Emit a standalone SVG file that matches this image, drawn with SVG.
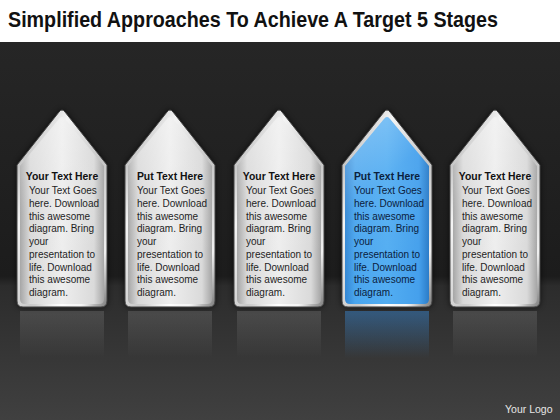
<svg xmlns="http://www.w3.org/2000/svg" width="560" height="420" viewBox="0 0 560 420">
<defs>
  <linearGradient id="bg" gradientUnits="userSpaceOnUse" x1="0" y1="42" x2="0" y2="420">
    <stop offset="0" stop-color="#262626"/>
    <stop offset="0.62" stop-color="#1c1c1c"/>
    <stop offset="0.645" stop-color="#2c2c2c"/>
    <stop offset="1" stop-color="#404040"/>
  </linearGradient>
  <linearGradient id="rim" x1="0" y1="0" x2="1" y2="1">
    <stop offset="0" stop-color="#9a9a9a"/>
    <stop offset="0.3" stop-color="#f4f4f4"/>
    <stop offset="0.6" stop-color="#c4c4c4"/>
    <stop offset="0.85" stop-color="#f0f0f0"/>
    <stop offset="1" stop-color="#7a7a7a"/>
  </linearGradient>
  <linearGradient id="faceS" x1="0" y1="0" x2="1" y2="0">
    <stop offset="0" stop-color="#a4a4a4"/>
    <stop offset="0.12" stop-color="#d8d8d8"/>
    <stop offset="0.5" stop-color="#eeeeee"/>
    <stop offset="0.88" stop-color="#dadada"/>
    <stop offset="1" stop-color="#a6a6a6"/>
  </linearGradient>
  <linearGradient id="faceB" x1="0" y1="0" x2="1" y2="0">
    <stop offset="0" stop-color="#2f84d2"/>
    <stop offset="0.12" stop-color="#47a4ee"/>
    <stop offset="0.5" stop-color="#52adf2"/>
    <stop offset="0.88" stop-color="#45a0ec"/>
    <stop offset="1" stop-color="#2b7cc8"/>
  </linearGradient>
  <linearGradient id="gloss" x1="0" y1="0" x2="0.4" y2="1">
    <stop offset="0" stop-color="#ffffff" stop-opacity="0.35"/>
    <stop offset="0.45" stop-color="#ffffff" stop-opacity="0.06"/>
    <stop offset="1" stop-color="#ffffff" stop-opacity="0"/>
  </linearGradient>
  <linearGradient id="shine" x1="0" y1="0" x2="1" y2="0">
    <stop offset="0" stop-color="#ffffff" stop-opacity="0"/>
    <stop offset="0.5" stop-color="#ffffff" stop-opacity="1"/>
    <stop offset="1" stop-color="#ffffff" stop-opacity="0"/>
  </linearGradient>
  <linearGradient id="reflS" x1="0" y1="0" x2="0" y2="1">
    <stop offset="0" stop-color="#ffffff" stop-opacity="0.13"/>
    <stop offset="1" stop-color="#ffffff" stop-opacity="0"/>
  </linearGradient>
  <linearGradient id="reflB" x1="0" y1="0" x2="0" y2="1">
    <stop offset="0" stop-color="#3a8ede" stop-opacity="0.45"/>
    <stop offset="1" stop-color="#3a8ede" stop-opacity="0"/>
  </linearGradient>
  <filter id="blur" x="-30%" y="-30%" width="160%" height="160%">
    <feGaussianBlur stdDeviation="3"/>
  </filter>
  <path id="outer" d="M -45,165 L -3,112 Q 0,108 3,112 L 45,165 L 45,301 Q 45,307 39,307 L -39,307 Q -45,307 -45,301 Z"/>
  <path id="inner" d="M -42,166 L -3,119 Q 0,115 3,119 L 42,166 L 42,299 Q 42,304 37,304 L -37,304 Q -42,304 -42,299 Z"/>
  <path id="refl" d="M -42,311 L 42,311 L 42,358 L -42,358 Z"/>
</defs>
<style>
  .title { font-family: "Liberation Sans", Arial, sans-serif; font-weight: bold; font-size: 22px; fill: #111; }
  .hd { font-family: "Liberation Sans", Arial, sans-serif; font-weight: bold; font-size: 10.4px; fill: #111; text-anchor: middle; }
  .bd { font-family: "Liberation Sans", Arial, sans-serif; font-size: 10px; fill: #1e1e1e; }
  .blue .hd, .blue .bd { fill: #0b213d; }
  .halo { fill: #000; opacity: 0.7; filter: url(#blur); }
  .rim { fill: url(#rim); stroke: #444; stroke-width: 1; }
  .logo { font-family: "Liberation Sans", Arial, sans-serif; font-size: 10.5px; fill: #e6e6e6; }
</style>

<rect x="0" y="0" width="560" height="42" fill="#ffffff"/>
<rect x="0" y="42" width="560" height="378" fill="url(#bg)"/>
<text class="title" x="8" y="27" textLength="490" lengthAdjust="spacingAndGlyphs">Simplified Approaches To Achieve A Target 5 Stages</text>

<g id="stage1" transform="translate(62,0)">
  <use href="#outer" class="halo"/>
  <use href="#refl" fill="url(#reflS)"/>
  <use href="#outer" class="rim"/>
  <use href="#inner" fill="url(#faceS)"/>
  <use href="#inner" fill="url(#gloss)"/>
  <rect x="-32" y="304" width="64" height="2" fill="url(#shine)"/>
  <text class="hd" x="0" y="180">Your Text Here</text>
  <text class="bd"><tspan x="-33" y="194.3">Your Text Goes</tspan><tspan x="-33" y="207">here. Download</tspan><tspan x="-33" y="219.7">this awesome</tspan><tspan x="-33" y="232.4">diagram. Bring</tspan><tspan x="-33" y="245">your</tspan><tspan x="-33" y="257.8">presentation to</tspan><tspan x="-33" y="270.5">life. Download</tspan><tspan x="-33" y="283.2">this awesome</tspan><tspan x="-33" y="296">diagram.</tspan></text>
</g>

<g id="stage2" transform="translate(170,0)">
  <use href="#outer" class="halo"/>
  <use href="#refl" fill="url(#reflS)"/>
  <use href="#outer" class="rim"/>
  <use href="#inner" fill="url(#faceS)"/>
  <use href="#inner" fill="url(#gloss)"/>
  <rect x="-32" y="304" width="64" height="2" fill="url(#shine)"/>
  <text class="hd" x="0" y="180">Put Text Here</text>
  <text class="bd"><tspan x="-33" y="194.3">Your Text Goes</tspan><tspan x="-33" y="207">here. Download</tspan><tspan x="-33" y="219.7">this awesome</tspan><tspan x="-33" y="232.4">diagram. Bring</tspan><tspan x="-33" y="245">your</tspan><tspan x="-33" y="257.8">presentation to</tspan><tspan x="-33" y="270.5">life. Download</tspan><tspan x="-33" y="283.2">this awesome</tspan><tspan x="-33" y="296">diagram.</tspan></text>
</g>

<g id="stage3" transform="translate(279,0)">
  <use href="#outer" class="halo"/>
  <use href="#refl" fill="url(#reflS)"/>
  <use href="#outer" class="rim"/>
  <use href="#inner" fill="url(#faceS)"/>
  <use href="#inner" fill="url(#gloss)"/>
  <rect x="-32" y="304" width="64" height="2" fill="url(#shine)"/>
  <text class="hd" x="0" y="180">Your Text Here</text>
  <text class="bd"><tspan x="-33" y="194.3">Your Text Goes</tspan><tspan x="-33" y="207">here. Download</tspan><tspan x="-33" y="219.7">this awesome</tspan><tspan x="-33" y="232.4">diagram. Bring</tspan><tspan x="-33" y="245">your</tspan><tspan x="-33" y="257.8">presentation to</tspan><tspan x="-33" y="270.5">life. Download</tspan><tspan x="-33" y="283.2">this awesome</tspan><tspan x="-33" y="296">diagram.</tspan></text>
</g>

<g id="stage4" class="blue" transform="translate(387,0)">
  <use href="#outer" class="halo"/>
  <use href="#refl" fill="url(#reflB)"/>
  <use href="#outer" class="rim"/>
  <use href="#inner" fill="url(#faceB)"/>
  <use href="#inner" fill="url(#gloss)"/>
  <rect x="-32" y="304" width="64" height="2" fill="url(#shine)"/>
  <text class="hd" x="0" y="180">Put Text Here</text>
  <text class="bd"><tspan x="-33" y="194.3">Your Text Goes</tspan><tspan x="-33" y="207">here. Download</tspan><tspan x="-33" y="219.7">this awesome</tspan><tspan x="-33" y="232.4">diagram. Bring</tspan><tspan x="-33" y="245">your</tspan><tspan x="-33" y="257.8">presentation to</tspan><tspan x="-33" y="270.5">life. Download</tspan><tspan x="-33" y="283.2">this awesome</tspan><tspan x="-33" y="296">diagram.</tspan></text>
</g>

<g id="stage5" transform="translate(495,0)">
  <use href="#outer" class="halo"/>
  <use href="#refl" fill="url(#reflS)"/>
  <use href="#outer" class="rim"/>
  <use href="#inner" fill="url(#faceS)"/>
  <use href="#inner" fill="url(#gloss)"/>
  <rect x="-32" y="304" width="64" height="2" fill="url(#shine)"/>
  <text class="hd" x="0" y="180">Your Text Here</text>
  <text class="bd"><tspan x="-33" y="194.3">Your Text Goes</tspan><tspan x="-33" y="207">here. Download</tspan><tspan x="-33" y="219.7">this awesome</tspan><tspan x="-33" y="232.4">diagram. Bring</tspan><tspan x="-33" y="245">your</tspan><tspan x="-33" y="257.8">presentation to</tspan><tspan x="-33" y="270.5">life. Download</tspan><tspan x="-33" y="283.2">this awesome</tspan><tspan x="-33" y="296">diagram.</tspan></text>
</g>

<g id="connectors"></g>

<text class="logo" x="505" y="413">Your Logo</text>
</svg>
